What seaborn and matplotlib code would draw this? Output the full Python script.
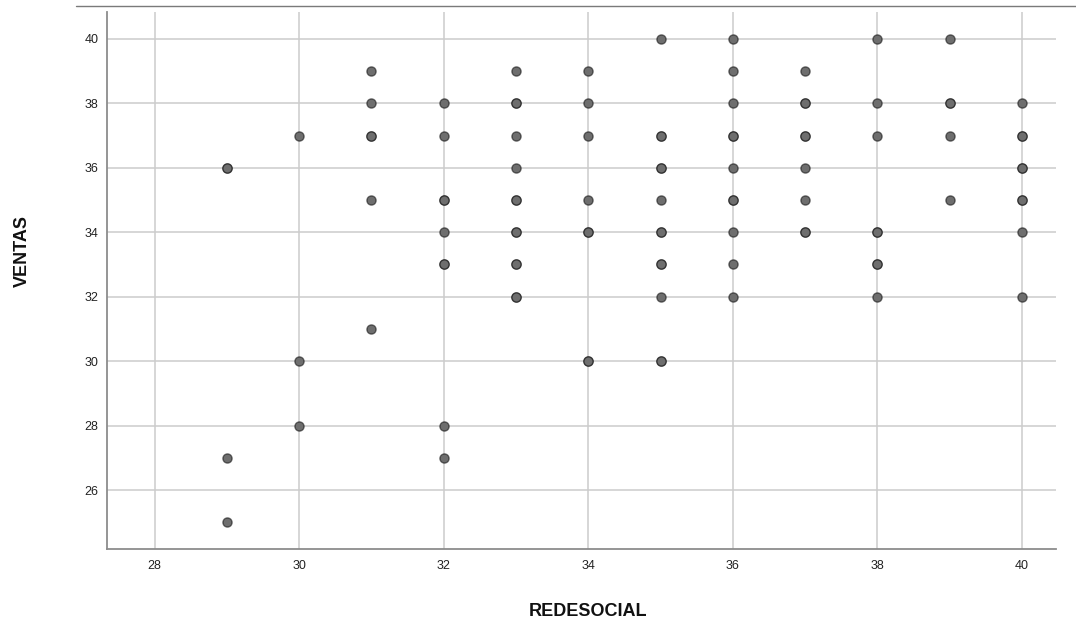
import matplotlib
matplotlib.use("Agg")
import matplotlib.pyplot as plt
from matplotlib.lines import Line2D
import seaborn as sns
import pandas as pd

# Paired observations (repeated pairs are separate cases at the same spot)
redesocial = (
    [29] * 4 + [30] * 3 + [31] * 6 + [32] * 9 + [33] * 13 + [34] * 8
    + [35] * 13 + [36] * 11 + [37] * 9 + [38] * 8 + [39] * 5 + [40] * 9
)
ventas = [
    36, 36, 27, 25,
    37, 30, 28,
    39, 38, 37, 37, 35, 31,
    38, 37, 35, 35, 34, 33, 33, 28, 27,
    39, 38, 38, 37, 36, 35, 35, 34, 34, 33, 33, 32, 32,
    39, 38, 37, 35, 34, 34, 30, 30,
    40, 37, 37, 36, 36, 35, 34, 34, 33, 33, 32, 30, 30,
    40, 39, 38, 37, 37, 36, 35, 35, 34, 33, 32,
    39, 38, 38, 37, 37, 36, 35, 34, 34,
    40, 38, 37, 34, 34, 33, 33, 32,
    40, 38, 38, 37, 35,
    38, 37, 37, 36, 36, 35, 35, 34, 32,
]
x_ticks = [28, 30, 32, 34, 36, 38, 40]
y_ticks = [26, 28, 30, 32, 34, 36, 38, 40]

df = pd.DataFrame({"REDESOCIAL": redesocial, "VENTAS": ventas})

sns.set_style("white")
plt.rcParams["font.family"] = ["Liberation Sans", "DejaVu Sans"]

fig = plt.figure(figsize=(10.76, 6.26), dpi=100)
ax = fig.add_axes([0.0994, 0.123, 0.8820, 0.858])

sns.scatterplot(
    data=df, x="REDESOCIAL", y="VENTAS", ax=ax,
    s=44, color="#6e6e6e", edgecolor=(0, 0, 0, 0.5), linewidth=1.0,
    zorder=3,
)

ax.set_xlim(27.34, 40.47)
ax.set_ylim(24.17, 40.84)
ax.set_xticks(x_ticks)
ax.set_yticks(y_ticks)
ax.grid(True, color="#cccccc", linewidth=1.1, zorder=0)
ax.set_axisbelow(True)

for side in ("top", "right"):
    ax.spines[side].set_visible(False)
for side in ("left", "bottom"):
    ax.spines[side].set_color("#8c8c8c")
    ax.spines[side].set_linewidth(1.3)

ax.tick_params(axis="both", length=0, labelsize=9, labelcolor="#222222")
ax.tick_params(axis="y", pad=6)
ax.tick_params(axis="x", pad=8)

ax.set_xlabel("REDESOCIAL", fontsize=13, fontweight="bold", color="#111111")
ax.set_ylabel("VENTAS", fontsize=13, fontweight="bold", color="#111111")
ax.xaxis.set_label_coords(0.507, -0.10)
ax.yaxis.set_label_coords(-0.080, 0.555)

# Frame line across the top of the chart area
fig.add_artist(Line2D([76 / 1076, 1.0], [1 - 6 / 626, 1 - 6 / 626],
                      transform=fig.transFigure, color="#7a7a7a", linewidth=1.0))

fig.savefig("out.png", dpi=100)
